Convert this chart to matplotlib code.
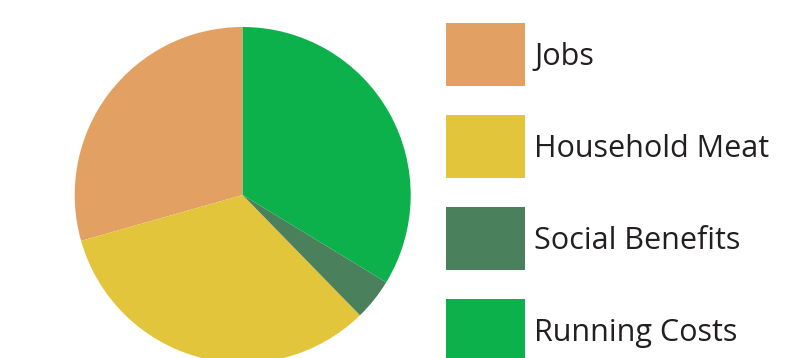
import matplotlib
matplotlib.use("Agg")
import matplotlib.pyplot as plt
from matplotlib.patches import Rectangle

categories = ["Jobs", "Household Meat", "Social Benefits", "Running Costs"]
values = [29.4, 32.9, 4.0, 33.7]
colors = ["#E2A162", "#E2C53A", "#4A805C", "#0DB14B"]

W, H = 799, 358
fig = plt.figure(figsize=(W / 100, H / 100), dpi=100)
fig.patch.set_facecolor("white")

# pie axes (pixel geometry)
cx, cy, r = 242.7, 195.0, 168.0
ax = fig.add_axes([(cx - r) / W, (H - cy - r) / H, 2 * r / W, 2 * r / H])
ax.pie(values, colors=colors, startangle=90, counterclock=True,
       wedgeprops=dict(linewidth=0, antialiased=True))
ax.set_xlim(-1, 1)
ax.set_ylim(-1, 1)
ax.set_aspect("equal")
ax.axis("off")

# legend axes in pixel coords
lax = fig.add_axes([0, 0, 1, 1])
lax.set_xlim(0, W)
lax.set_ylim(H, 0)
lax.axis("off")
lax.patch.set_alpha(0)
x0, y0, bw, bh, step = 446, 22.7, 79, 63.6, 92.0
for i, (lab, col) in enumerate(zip(categories, colors)):
    y = y0 + i * step
    lax.add_patch(Rectangle((x0, y), bw, bh, facecolor=col, edgecolor="none"))
    lax.text(534, y + bh / 2 + 2.5, lab, fontsize=22, family="Open Sans",
             color="#231F20", va="center", ha="left")

fig.savefig("out.png", dpi=100, facecolor="white")
